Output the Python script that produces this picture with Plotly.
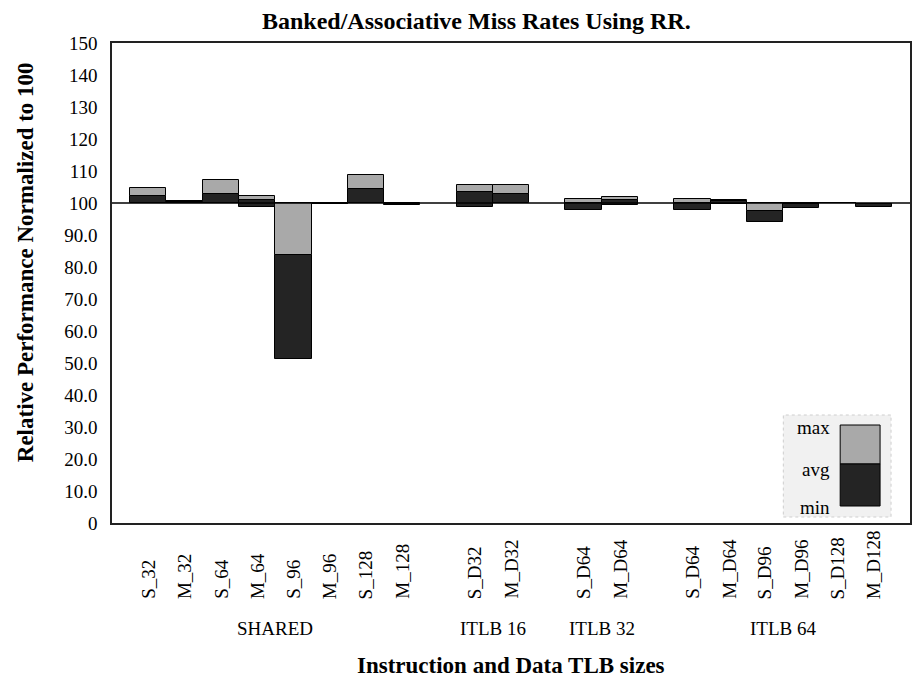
import plotly.graph_objects as go

# ---- data -------------------------------------------------------------
categories = ["S_32", "M_32", "S_64", "M_64", "S_96", "M_96", "S_128", "M_128",
              "S_D32", "M_D32",
              "S_D64", "M_D64",
              "S_D64", "M_D64", "S_D96", "M_D96", "S_D128", "M_D128"]
groups = ["SHARED", "ITLB 16", "ITLB 32", "ITLB 64"]
group_sizes = [8, 2, 2, 6]

max_vals = [104.6, 100.6, 107.3, 102.2, 100.0, 100.0, 108.7, 100.0,
            105.5, 105.6,
            101.2, 101.9,
            101.2, 100.9, 99.9, 100.0, 100.1, 99.8]
avg_vals = [102.1, 100.3, 102.8, 100.8, 83.6, 99.8, 104.3, 99.8,
            103.3, 102.7,
            100.1, 100.9,
            100.0, 100.7, 97.6, 99.8, 100.0, 99.6]
min_vals = [100.0, 100.0, 100.0, 98.9, 51.4, 99.6, 100.1, 99.5,
            98.6, 99.9,
            97.8, 99.4,
            97.8, 99.7, 94.0, 98.3, 99.9, 98.6]

y_tick_vals = list(range(0, 151, 10))
y_tick_text = ["0", "10.0", "20.0", "30.0", "40.0", "50.0", "60.0", "70.0",
               "80.0", "90.0", "100", "110", "120", "130", "140", "150"]

# ---- layout helpers ---------------------------------------------------
W, H = 915, 679
L, R, T, B = 112, 3, 43, 156
PW, PH = W - L - R, H - T - B


def px_x(px):
    return (px - L) / PW


def px_y(py):
    return (H - B - py) / PH


SERIF = "Liberation Serif"
DARK = "#242424"
GRAY = "#a9a9a9"

# bar slots: groups separated by one empty slot
positions, group_centers = [], []
slot = 0
for gi, size in enumerate(group_sizes):
    if gi > 0:
        slot += 1
    start = slot
    for _ in range(size):
        positions.append(slot)
        slot += 1
    group_centers.append((start + slot - 1) / 2)
last_slot = positions[-1]

fig = go.Figure()

fig.add_trace(go.Bar(
    x=positions,
    y=[a - m for a, m in zip(avg_vals, min_vals)],
    base=min_vals,
    width=1.0,
    marker=dict(color=DARK, line=dict(color="#000000", width=1)),
    name="min-avg",
    showlegend=False,
    hoverinfo="skip",
))
fig.add_trace(go.Bar(
    x=positions,
    y=[mx - a for mx, a in zip(max_vals, avg_vals)],
    base=avg_vals,
    width=1.0,
    marker=dict(color=GRAY, line=dict(color="#000000", width=1)),
    name="avg-max",
    showlegend=False,
    hoverinfo="skip",
))

annotations = []

# category labels, bottom-aligned and read upward
for p, c in zip(positions, categories):
    annotations.append(dict(
        x=p, xref="x", y=px_y(601), yref="paper",
        text=c, textangle=-90, showarrow=False,
        xanchor="center", yanchor="bottom",
        font=dict(family=SERIF, size=19, color="#000000"),
    ))

# group labels
for gx, g in zip(group_centers, groups):
    annotations.append(dict(
        x=gx, xref="x", y=px_y(628), yref="paper",
        text=g, showarrow=False, xanchor="center", yanchor="middle",
        font=dict(family=SERIF, size=19, color="#000000"),
    ))

# axis titles and chart title
annotations.append(dict(
    x=px_x(512), xref="paper", y=px_y(665), yref="paper",
    text="<b>Instruction and Data TLB sizes</b>", showarrow=False,
    xanchor="center", yanchor="middle",
    font=dict(family=SERIF, size=23, color="#000000"),
))
annotations.append(dict(
    x=px_x(25), xref="paper", y=px_y(262), yref="paper",
    text="<b>Relative Performance Normalized to 100</b>", showarrow=False,
    textangle=-90, xanchor="center", yanchor="middle",
    font=dict(family=SERIF, size=23, color="#000000"),
))
annotations.append(dict(
    x=px_x(477), xref="paper", y=px_y(21), yref="paper",
    text="<b>Banked/Associative Miss Rates Using RR.</b>", showarrow=False,
    xanchor="center", yanchor="middle",
    font=dict(family=SERIF, size=24, color="#000000"),
))

# legend: key box with a two-tone swatch
legend_labels = [("max", 427), ("avg", 469), ("min", 507)]
for txt, ty in legend_labels:
    annotations.append(dict(
        x=px_x(834), xref="paper", y=px_y(ty), yref="paper",
        text=txt, showarrow=False, xanchor="right", yanchor="middle",
        font=dict(family=SERIF, size=19, color="#000000"),
    ))

shapes = [
    # reference line at 100
    dict(type="line", xref="paper", x0=0, x1=1, yref="y", y0=100, y1=100,
         line=dict(color="#000000", width=1.5), layer="above"),
    # legend background
    dict(type="rect", xref="paper", yref="paper",
         x0=px_x(785), x1=px_x(893), y0=px_y(517), y1=px_y(415),
         fillcolor="#f1f1f1", line=dict(color="#cfcfcf", width=1, dash="dot"),
         layer="above"),
    dict(type="rect", xref="paper", yref="paper",
         x0=px_x(842), x1=px_x(882), y0=px_y(464), y1=px_y(425),
         fillcolor=GRAY, line=dict(color="#000000", width=1), layer="above"),
    dict(type="rect", xref="paper", yref="paper",
         x0=px_x(842), x1=px_x(882), y0=px_y(506), y1=px_y(464),
         fillcolor=DARK, line=dict(color="#000000", width=1), layer="above"),
]

fig.update_layout(
    width=W, height=H, autosize=False,
    margin=dict(l=L, r=R, t=T, b=B, pad=0),
    paper_bgcolor="#ffffff", plot_bgcolor="#ffffff",
    barmode="overlay", bargap=0,
    showlegend=False,
    annotations=annotations,
    shapes=shapes,
    xaxis=dict(
        range=[-1, last_slot + 1], showticklabels=False, ticks="",
        showgrid=False, zeroline=False,
        showline=True, mirror=True, linecolor="#222222", linewidth=1.5,
        fixedrange=True,
    ),
    yaxis=dict(
        range=[0, 150], tickvals=y_tick_vals, ticktext=y_tick_text,
        ticks="", ticklabelstandoff=9,
        tickfont=dict(family=SERIF, size=19, color="#000000"),
        showgrid=False, zeroline=False,
        showline=True, mirror=True, linecolor="#222222", linewidth=1.5,
        fixedrange=True,
    ),
)

fig.write_html("out.html")
